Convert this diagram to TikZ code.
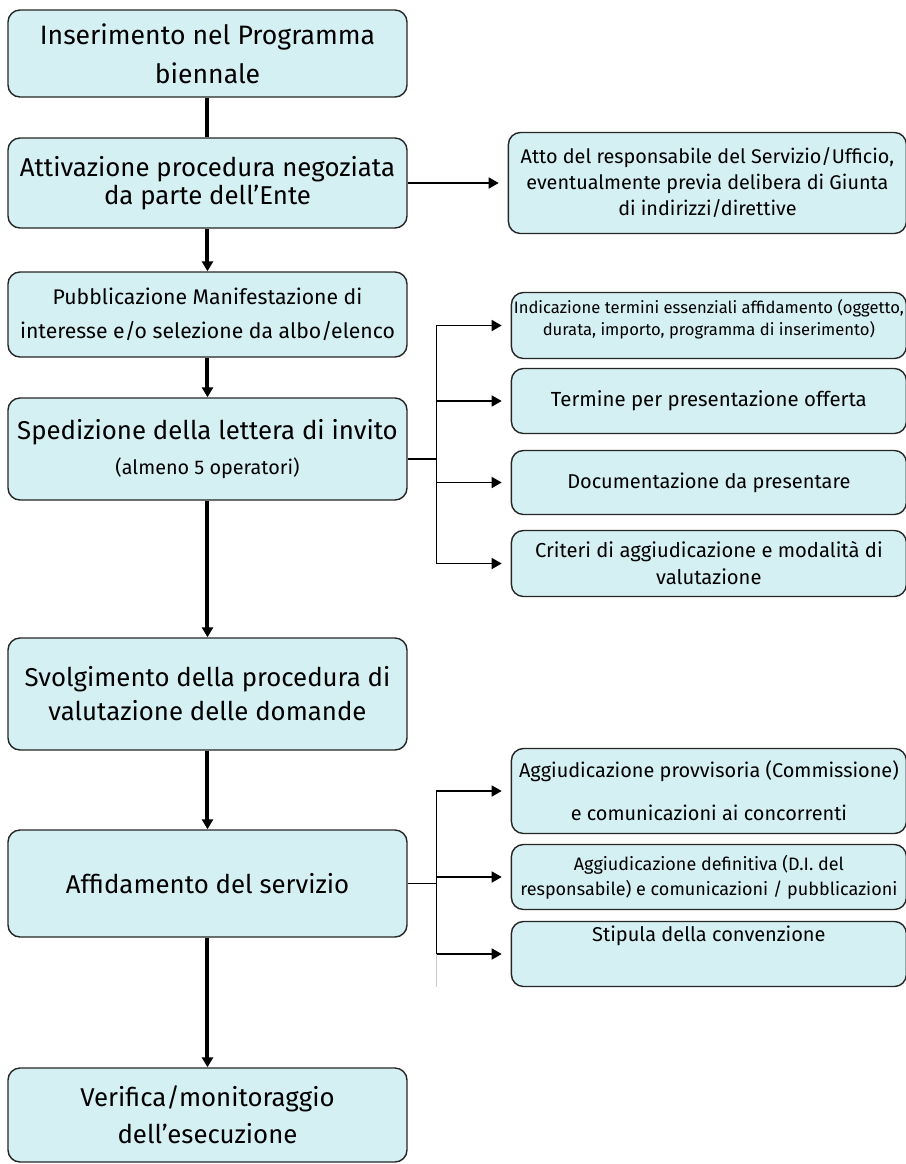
\documentclass[tikz,border=0pt]{standalone}
\usepackage{fontspec}
\setmainfont{Fira Sans}
\usetikzlibrary{arrows.meta,positioning}
\tikzset{>/.tip={Triangle[length=5pt,width=5.5pt]}}
\definecolor{boxfill}{RGB}{213,240,243}
\definecolor{boxline}{RGB}{38,38,38}
\newcommand\fsize[2]{\fontsize{#1}{#2}\selectfont}

\begin{document}
\begin{tikzpicture}[node distance=20pt,
    mainbox/.style={draw=boxline,fill=boxfill,rounded corners=6pt,line width=0.7pt,
      minimum width=199.5pt,align=center,inner sep=1pt},
    sidebox/.style={mainbox,minimum width=197.5pt},
    flow/.style={line width=2pt},
    stub/.style={line width=0.8pt},
    branch/.style={stub,shorten >=4.5pt}]
        \useasboundingbox (-103.75pt,26.75pt) rectangle (349.25pt,-555.25pt);
        % main column
        \node[mainbox,minimum height=43.5pt,font=\fsize{13.3pt}{19.5pt}](prog) at (0,0){Inserimento nel Programma\\biennale};
        \node[mainbox,minimum height=45pt,font=\fsize{12.9pt}{14pt}](attiv)[below=19.8pt of prog]{Attivazione procedura negoziata\\da parte dell’Ente};
        \node[mainbox,minimum height=42.5pt,font=\fsize{10.6pt}{17pt}](pubbl)[below=21.3pt of attiv]{Pubblicazione Manifestazione di\\interesse e/o selezione da albo/elenco};
        \node[mainbox,minimum height=51pt,font=\fsize{12.9pt}{17.5pt}](invito)[below=19.8pt of pubbl]{Spedizione della lettera di invito\\{\fsize{9.9pt}{17.5pt}(almeno 5 operatori)}};
        \node[mainbox,minimum height=56pt,font=\fsize{12.9pt}{17pt}](svolg)[below=68.3pt of invito]{Svolgimento della procedura di\\valutazione delle domande};
        \node[mainbox,minimum height=53.5pt,font=\fsize{12.9pt}{17pt}](affid)[below=39.3pt of svolg]{Affidamento del servizio};
        \node[mainbox,minimum height=47pt,font=\fsize{12.9pt}{18.5pt}](verif)[below=64.8pt of affid]{Verifica/monitoraggio\\dell’esecuzione};
        % side boxes
        \node[sidebox,minimum width=199pt,minimum height=50.5pt,font=\fsize{9.9pt}{13pt}](atto)[right=50pt of attiv]{Atto del responsabile del Servizio/Ufficio,\\eventualmente previa delibera di Giunta\\di indirizzi/direttive};
        \node[sidebox,minimum height=33pt,font=\fsize{8.3pt}{11pt}](termini)[below=28.8pt of atto.south west,anchor=north west,xshift=1.5pt]{Indicazione termini essenziali affidamento (oggetto,\\durata, importo, programma di inserimento)\\[-3pt]\mbox{}};
        \node[sidebox,minimum height=32.5pt,font=\fsize{10.2pt}{12pt}](termine)[below=4.3pt of termini]{Termine per presentazione offerta};
        \node[sidebox,minimum height=32pt,font=\fsize{10pt}{12pt}](docum)[below=7.8pt of termine]{Documentazione da presentare};
        \node[sidebox,minimum height=33pt,font=\fsize{10.1pt}{13.5pt}](criteri)[below=7.3pt of docum]{Criteri di aggiudicazione e modalità di\\valutazione};
        \node[sidebox,minimum height=42.5pt,font=\fsize{9.95pt}{21.5pt}](provv)[below=75.3pt of criteri]{Aggiudicazione provvisoria (Commissione)\\e comunicazioni ai concorrenti};
        \node[sidebox,minimum height=32.5pt,font=\fsize{9pt}{12.5pt}](defin)[below=4.8pt of provv]{Aggiudicazione definitiva (D.I. del\\responsabile) e comunicazioni / pubblicazioni};
        \node[sidebox,minimum height=32.5pt,font=\fsize{10pt}{12pt}](stipula)[below=5.3pt of defin]{Stipula della convenzione\\[8.5pt]\mbox{}};
        % connectors
        \draw[flow] (prog) -- (attiv);
        \draw[flow,->] (attiv) -- (pubbl);
        \draw[flow,->] (pubbl) -- (invito);
        \draw[flow,->] (invito) -- (svolg);
        \draw[flow,->] (svolg) -- (affid);
        \draw[flow,->] (affid) -- (verif);
        \draw[branch,->] (attiv.east) -- (attiv.east -| atto.west);
        \coordinate[right=14.5pt of invito.east,yshift=-5pt] (fork1);
        \draw[stub] (invito.east |- fork1) -- (fork1);
        \foreach \t in {termini,termine,docum,criteri}
          \draw[branch,->] (fork1) |- (\t.west);
        \coordinate[right=14.5pt of affid.east] (fork2);
        \draw[stub] (affid.east) -- (fork2);
        \foreach \t in {provv,defin,stipula}
          \draw[branch,->] (fork2) |- (\t.west);
        \path (fork2 |- stipula.west) ++(0,-16.5pt) coordinate (tail);
        \draw[gray!40,line width=0.8pt] (fork2 |- stipula.west) -- (tail);
      \end{tikzpicture}
\end{document}
